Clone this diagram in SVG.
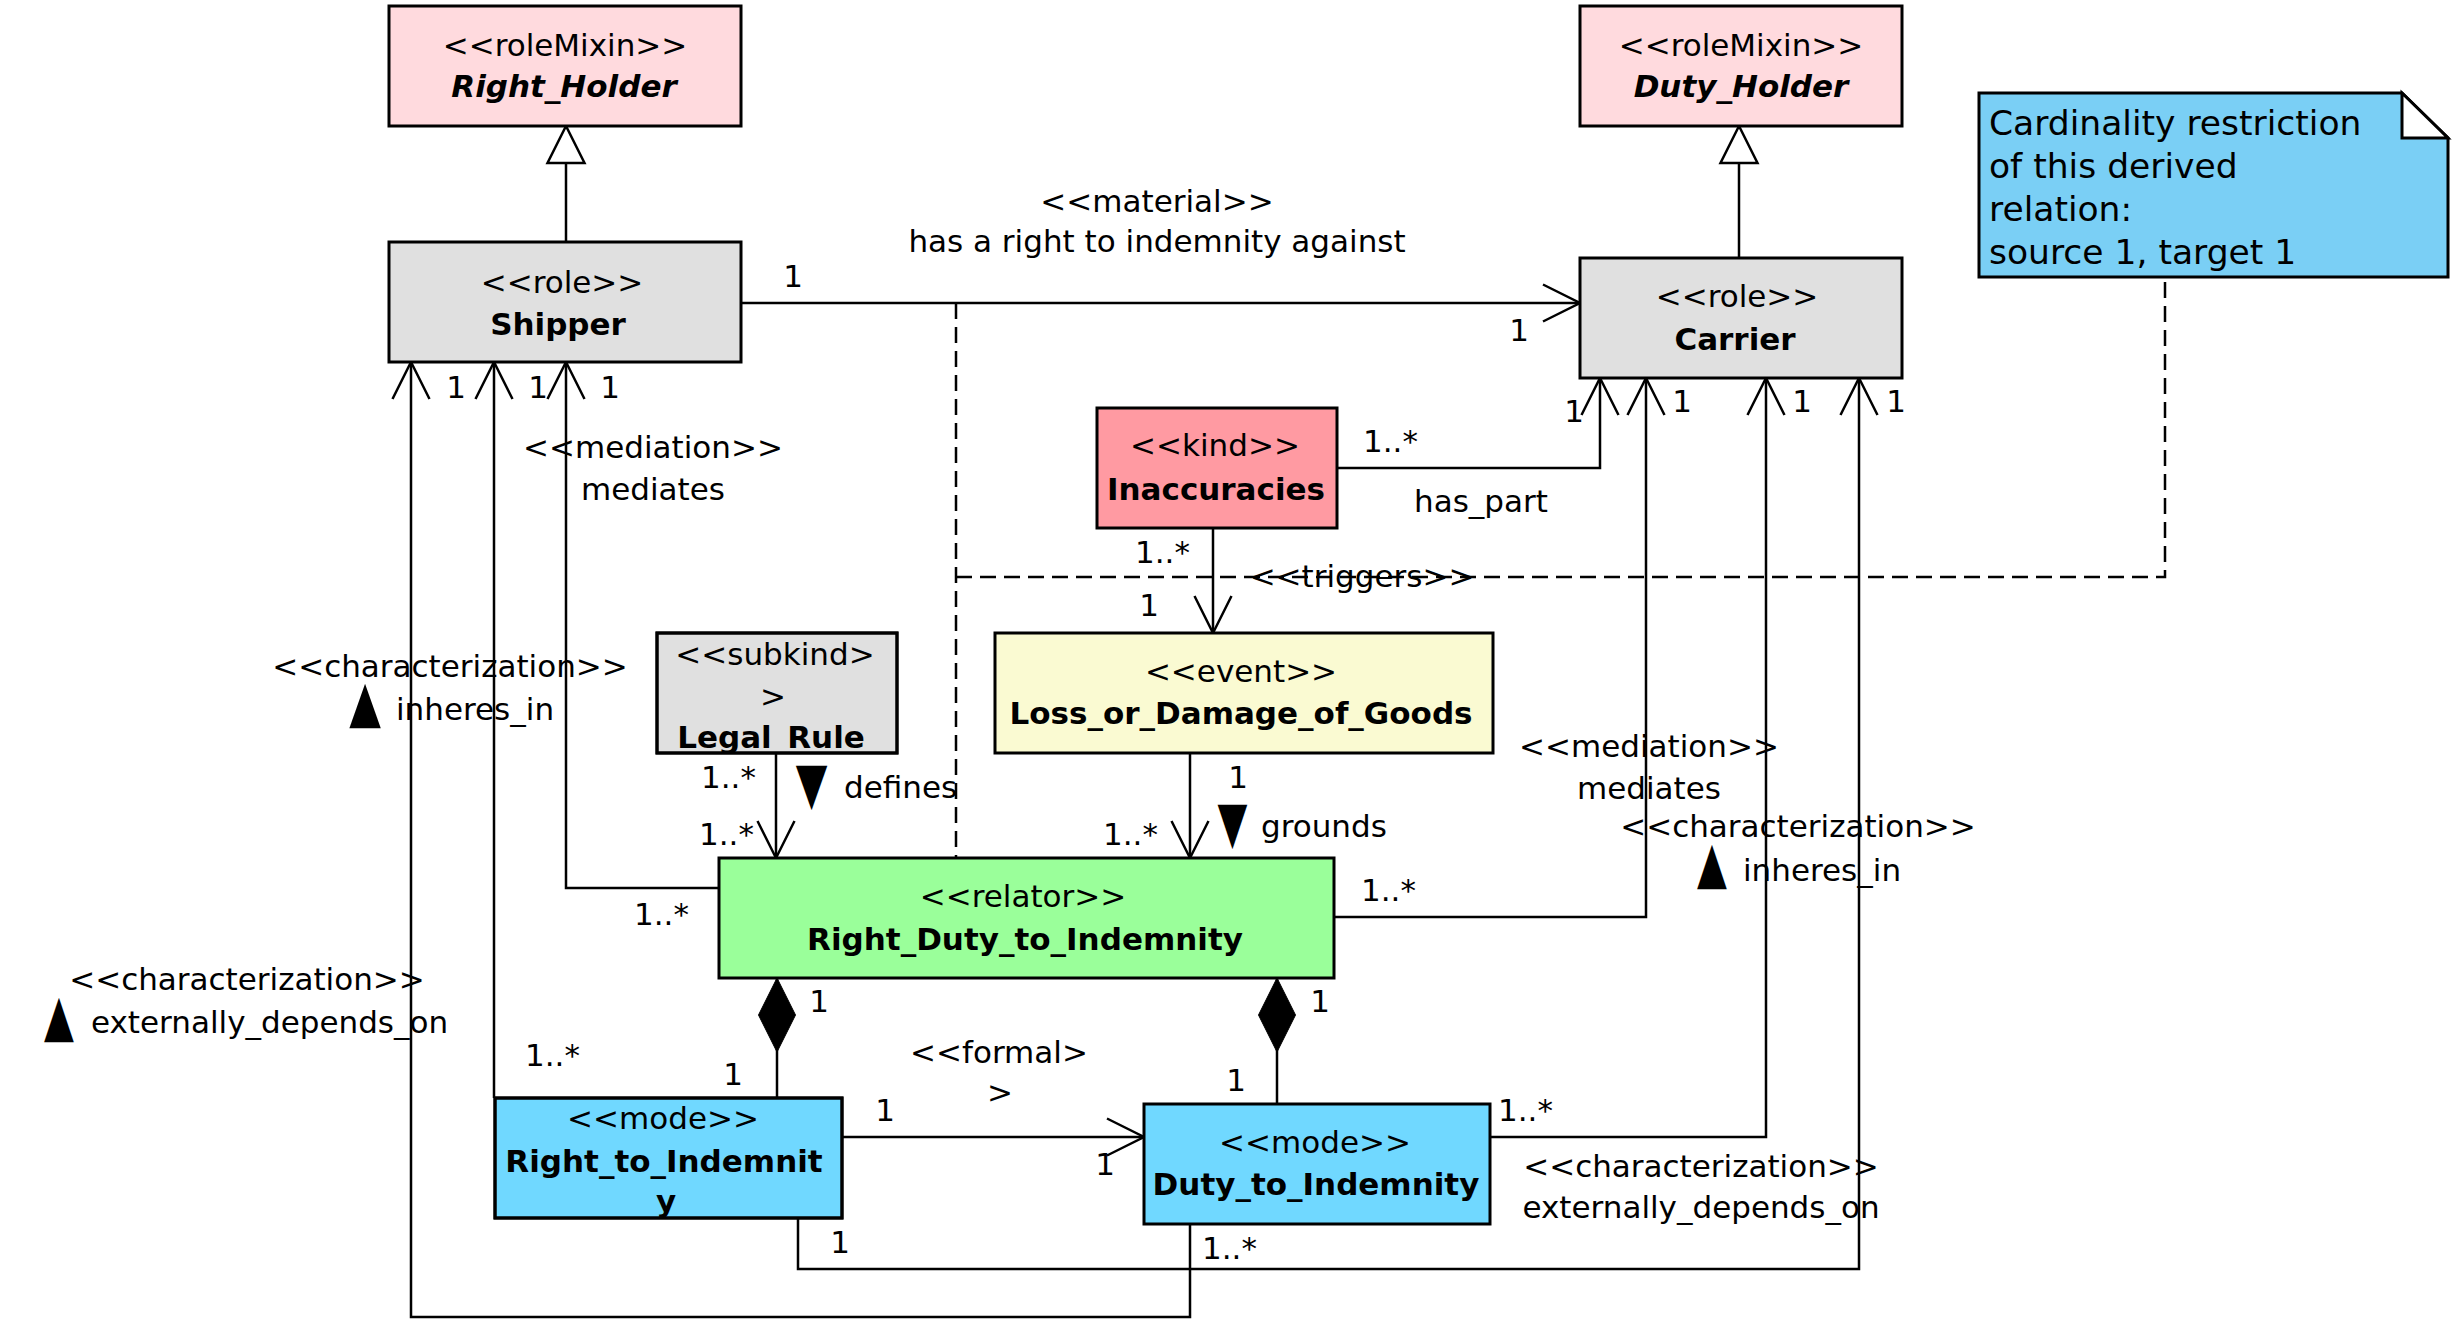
<svg xmlns="http://www.w3.org/2000/svg" width="2460" height="1329" viewBox="0 0 2460 1329">
<style>
.t{font-family:"DejaVu Sans","Liberation Sans",sans-serif;font-size:31px;fill:#000}
.b{font-weight:bold}
.i{font-style:italic}
.c{text-anchor:middle}
.tri{font-size:58px}
.box{stroke:#000;stroke-width:3}
.ln{fill:none;stroke:#000;stroke-width:2.5}
.dash{stroke-dasharray:16 8}
.note{font-size:34.5px}
</style>
<defs>
<marker id="open" markerUnits="userSpaceOnUse" markerWidth="60" markerHeight="60" refX="0" refY="0" orient="auto" overflow="visible"><path d="M-37,-18.5 L0,0 L-37,18.5" fill="none" stroke="#000" stroke-width="2.5"/></marker>
<marker id="gen" markerUnits="userSpaceOnUse" markerWidth="60" markerHeight="60" refX="0" refY="0" orient="auto" overflow="visible"><path d="M0,0 L-37,-18.5 L-37,18.5 Z" fill="#fff" stroke="#000" stroke-width="2.5"/></marker>
<marker id="dia" markerUnits="userSpaceOnUse" markerWidth="90" markerHeight="60" refX="0" refY="0" orient="auto" overflow="visible"><path d="M0,0 L37,-18.5 L74,0 L37,18.5 Z" fill="#000" stroke="#000" stroke-width="1"/></marker>
<clipPath id="clipLR"><rect x="657" y="633" width="240" height="120"/></clipPath>
<clipPath id="clipRI"><rect x="495" y="1098" width="347" height="120"/></clipPath>
</defs>
<rect width="2460" height="1329" fill="#fff"/>

<g id="connectors">
<path class="ln" d="M566,242 L566,126" marker-end="url(#gen)"/>
<path class="ln" d="M1739,258 L1739,126" marker-end="url(#gen)"/>
<path class="ln" d="M741,303 L1580,303" marker-end="url(#open)"/>
<path class="ln dash" d="M956,303 L956,858"/>
<path class="ln dash" d="M956,577 L2165,577 L2165,277"/>
<path class="ln" d="M719,888 L566,888 L566,362" marker-end="url(#open)"/>
<path class="ln" d="M494,1098 L494,362" marker-end="url(#open)"/>
<path class="ln" d="M1190,1224 L1190,1317 L411,1317 L411,362" marker-end="url(#open)"/>
<path class="ln" d="M1337,468 L1600,468 L1600,378" marker-end="url(#open)"/>
<path class="ln" d="M1334,917 L1646,917 L1646,378" marker-end="url(#open)"/>
<path class="ln" d="M1490,1137 L1766,1137 L1766,378" marker-end="url(#open)"/>
<path class="ln" d="M798,1218 L798,1269 L1859,1269 L1859,378" marker-end="url(#open)"/>
<path class="ln" d="M1213,528 L1213,633" marker-end="url(#open)"/>
<path class="ln" d="M776,753 L776,858" marker-end="url(#open)"/>
<path class="ln" d="M1190,753 L1190,858" marker-end="url(#open)"/>
<path class="ln" d="M777,978 L777,1098" marker-start="url(#dia)"/>
<path class="ln" d="M1277,978 L1277,1104" marker-start="url(#dia)"/>
<path class="ln" d="M842,1137 L1144,1137" marker-end="url(#open)"/>

<text class="t c" x="1157" y="212">&lt;&lt;material&gt;&gt;</text>
<text class="t c" x="1157" y="252">has a right to indemnity against</text>
<text class="t c" x="793" y="287">1</text>
<text class="t c" x="1519" y="341">1</text>

<text class="t c" x="456" y="398">1</text>
<text class="t c" x="538" y="398">1</text>
<text class="t c" x="610" y="398">1</text>

<text class="t c" x="1574" y="422">1</text>
<text class="t c" x="1682" y="412">1</text>
<text class="t c" x="1802" y="412">1</text>
<text class="t c" x="1896" y="412">1</text>

<text class="t c" x="653" y="458">&lt;&lt;mediation&gt;&gt;</text>
<text class="t c" x="653" y="500">mediates</text>
<text class="t" x="634" y="925">1..*</text>

<text class="t c" x="450" y="677">&lt;&lt;characterization&gt;&gt;</text>
<text class="t c tri" transform="translate(365,721) scale(0.71,1)">▲</text>
<text class="t" x="396" y="720">inheres_in</text>
<text class="t" x="525" y="1066">1..*</text>

<text class="t c" x="247" y="990">&lt;&lt;characterization&gt;&gt;</text>
<text class="t c tri" transform="translate(59,1035) scale(0.67,1)">▲</text>
<text class="t" x="91" y="1033">externally_depends_on</text>
<text class="t" x="1202" y="1259">1..*</text>

<text class="t" x="1363" y="452">1..*</text>
<text class="t" x="1414" y="512">has_part</text>

<text class="t" x="1135" y="563">1..*</text>
<text class="t c" x="1149" y="616">1</text>
<text class="t c" x="1362" y="587">&lt;&lt;triggers&gt;&gt;</text>

<text class="t" x="701" y="788">1..*</text>
<text class="t" x="699" y="845">1..*</text>
<text class="t c tri" transform="translate(811.5,773) scale(0.71,-1)">▲</text>
<text class="t" x="844" y="798">defines</text>

<text class="t c" x="1238" y="788">1</text>
<text class="t c tri" transform="translate(1232.5,812) scale(0.67,-1)">▲</text>
<text class="t" x="1261" y="837">grounds</text>
<text class="t" x="1103" y="845">1..*</text>

<text class="t" x="1361" y="901">1..*</text>
<text class="t c" x="1649" y="757">&lt;&lt;mediation&gt;&gt;</text>
<text class="t c" x="1649" y="799">mediates</text>
<text class="t c" x="1798" y="837">&lt;&lt;characterization&gt;&gt;</text>
<text class="t c tri" transform="translate(1712,882) scale(0.67,1)">▲</text>
<text class="t" x="1743" y="881">inheres_in</text>

<text class="t c" x="819" y="1012">1</text>
<text class="t c" x="733" y="1085">1</text>
<text class="t c" x="1320" y="1012">1</text>
<text class="t c" x="1236" y="1091">1</text>

<text class="t c" x="999" y="1063">&lt;&lt;formal&gt;</text>
<text class="t c" x="1000" y="1103">&gt;</text>
<text class="t c" x="885" y="1121">1</text>
<text class="t c" x="1105" y="1175">1</text>

<text class="t" x="1498" y="1121">1..*</text>
<text class="t c" x="1701" y="1177">&lt;&lt;characterization&gt;&gt;</text>
<text class="t c" x="1701" y="1218">externally_depends_on</text>
<text class="t c" x="840" y="1253">1</text>
</g>

<g id="Right_Holder">
<rect class="box" x="389" y="6" width="352" height="120" fill="#FFDADE"/>
<text class="t c" x="565" y="56">&lt;&lt;roleMixin&gt;&gt;</text>
<text class="t c b i" x="564" y="97">Right_Holder</text>
</g>
<g id="Duty_Holder">
<rect class="box" x="1580" y="6" width="322" height="120" fill="#FFDADE"/>
<text class="t c" x="1741" y="56">&lt;&lt;roleMixin&gt;&gt;</text>
<text class="t c b i" x="1741" y="97">Duty_Holder</text>
</g>
<g id="Shipper">
<rect class="box" x="389" y="242" width="352" height="120" fill="#E0E0E0"/>
<text class="t c" x="562" y="293">&lt;&lt;role&gt;&gt;</text>
<text class="t c b" x="558" y="335">Shipper</text>
</g>
<g id="Carrier">
<rect class="box" x="1580" y="258" width="322" height="120" fill="#E0E0E0"/>
<text class="t c" x="1737" y="307">&lt;&lt;role&gt;&gt;</text>
<text class="t c b" x="1735" y="350">Carrier</text>
</g>
<g id="Inaccuracies">
<rect class="box" x="1097" y="408" width="240" height="120" fill="#FF9AA2"/>
<text class="t c" x="1215" y="456">&lt;&lt;kind&gt;&gt;</text>
<text class="t c b" x="1216" y="500">Inaccuracies</text>
</g>
<g id="Loss_or_Damage_of_Goods">
<rect class="box" x="995" y="633" width="498" height="120" fill="#FAFAD2"/>
<text class="t c" x="1241" y="682">&lt;&lt;event&gt;&gt;</text>
<text class="t c b" x="1241" y="724">Loss_or_Damage_of_Goods</text>
</g>
<g id="Legal_Rule">
<rect class="box" x="657" y="633" width="240" height="120" fill="#E0E0E0"/>
<g clip-path="url(#clipLR)">
<text class="t c" x="775" y="665">&lt;&lt;subkind&gt;</text>
<text class="t c" x="773" y="707">&gt;</text>
<text class="t c b" x="771" y="748">Legal_Rule</text>
</g>
<rect x="657" y="633" width="240" height="120" fill="none" stroke="#000" stroke-width="3"/>
</g>
<g id="Right_Duty_to_Indemnity">
<rect class="box" x="719" y="858" width="615" height="120" fill="#9AFF9A"/>
<text class="t c" x="1023" y="907">&lt;&lt;relator&gt;&gt;</text>
<text class="t c b" x="1025" y="950">Right_Duty_to_Indemnity</text>
</g>
<g id="Right_to_Indemnity">
<rect class="box" x="495" y="1098" width="347" height="120" fill="#70D8FF"/>
<g clip-path="url(#clipRI)">
<text class="t c" x="663" y="1129">&lt;&lt;mode&gt;&gt;</text>
<text class="t c b" x="664" y="1172">Right_to_Indemnit</text>
<text class="t c b" x="666" y="1212">y</text>
</g>
<rect x="495" y="1098" width="347" height="120" fill="none" stroke="#000" stroke-width="3"/>
</g>
<g id="Duty_to_Indemnity">
<rect class="box" x="1144" y="1104" width="346" height="120" fill="#70D8FF"/>
<text class="t c" x="1315" y="1153">&lt;&lt;mode&gt;&gt;</text>
<text class="t c b" x="1316" y="1195">Duty_to_Indemnity</text>
</g>
<g id="Note">
<path class="box" d="M1979,93 L2402,93 L2448,138 L2448,277 L1979,277 Z" fill="#7ACFF5"/>
<path class="box" d="M2402,93 L2402,138 L2448,138 Z" fill="#fff"/>
<text class="t note" x="1989" y="135">Cardinality restriction</text>
<text class="t note" x="1989" y="178">of this derived</text>
<text class="t note" x="1989" y="221">relation:</text>
<text class="t note" x="1989" y="264">source 1, target 1</text>
</g>
</svg>
